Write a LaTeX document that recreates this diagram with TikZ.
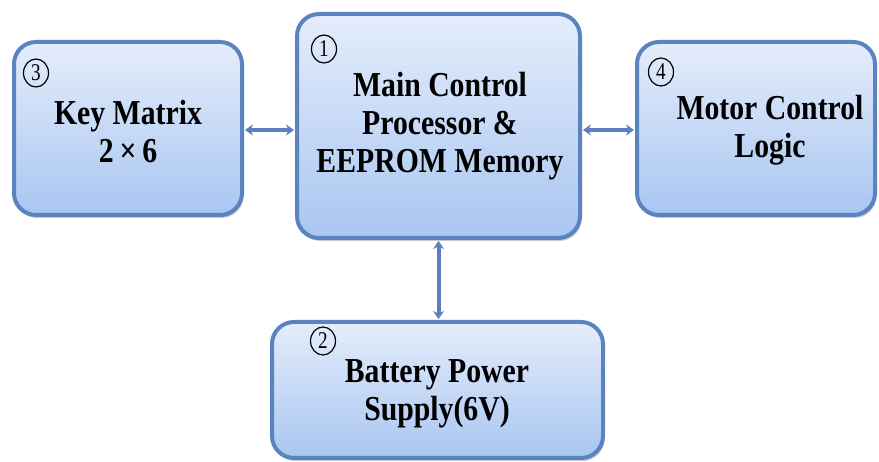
\documentclass[tikz,border=0pt]{standalone}
\usepackage{fontspec}
\setmainfont[FakeStretch=0.85]{Liberation Serif}
\newfontfamily\digfont[FakeStretch=0.8]{Liberation Serif}
\usetikzlibrary{arrows.meta,shadows,shapes.geometric}
\definecolor{bordc}{HTML}{5A83C0}
\definecolor{arrc}{HTML}{5B80BD}
\definecolor{topc}{HTML}{E4EDFB}
\definecolor{botc}{HTML}{A9C6F1}
\begin{document}
\begin{tikzpicture}[x=1pt,y=-1pt,
  blockbox/.style={draw=bordc, line width=4pt, rounded corners=22pt,
    top color=topc, bottom color=botc, inner sep=0pt,
    drop shadow={shadow xshift=1.5pt, shadow yshift=-3pt, opacity=0.35, fill=black!60}},
  blocktext/.style={align=center, inner sep=0pt, text=black,
    font=\bfseries\fontsize{35}{38}\selectfont},
  numlabel/.style={ellipse, draw=black, line width=1.2pt, minimum width=25pt, minimum height=28pt,
    inner sep=0pt, text=black, font=\digfont\fontsize{24}{24}\selectfont},
  biarrow/.style={draw=arrc, line width=4pt, {Stealth[length=8pt,width=11pt]}-{Stealth[length=8pt,width=11pt]}, shorten <=1pt, shorten >=1pt}]
\useasboundingbox (0,0) rectangle (879,462);
\fill[white] (0,0) rectangle (879,462);

\node[blockbox, minimum width=228pt, minimum height=173pt] (key) at (128,128.5) {};
\node[blockbox, minimum width=283pt, minimum height=224pt] (main) at (438.5,126) {};
\node[blockbox, minimum width=238pt, minimum height=173pt] (motor) at (756,128.5) {};
\node[blockbox, minimum width=331pt, minimum height=136pt] (batt) at (437.5,390) {};

\node[blocktext] (keyt) at (128,132) {Key Matrix\\2\,×\,6};
\node[blocktext] (maint) at (440,126) {Main Control\\Processor \&\\EEPROM Memory};
\node[blocktext] (motort) at (770,130) {Motor Control\\Logic};
\node[blocktext] (battt) at (437,394) {Battery Power\\Supply(6V)};

\node[numlabel] (n3) at (36,73) {3};
\node[numlabel] (n1) at (324,49) {1};
\node[numlabel] (n4) at (661,72) {4};
\node[numlabel] (n2) at (323,341) {2};

\draw[biarrow] (key.east |- 0,130) -- (main.west |- 0,130);
\draw[biarrow] (main.east |- 0,130) -- (motor.west |- 0,130);
\draw[biarrow] (main.south) -- (main.south |- batt.north);
\end{tikzpicture}
\end{document}
